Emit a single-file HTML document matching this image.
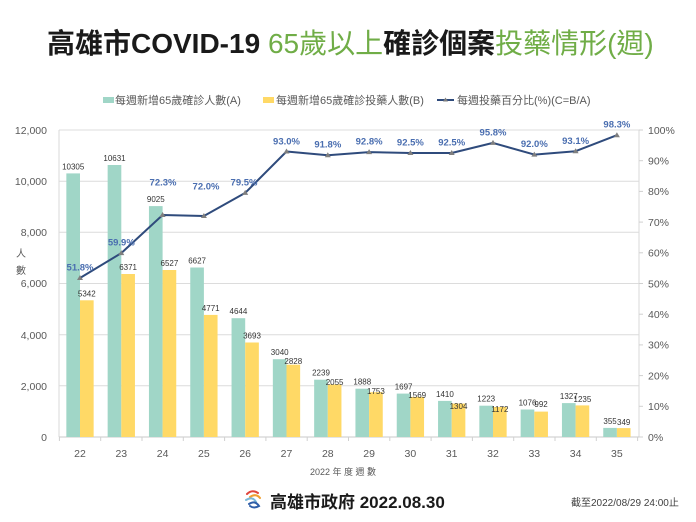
<!DOCTYPE html>
<html><head><meta charset="utf-8"><style>
html,body{margin:0;padding:0;background:#fff;}
svg{display:block;}
text{font-family:"Liberation Sans","Noto Sans CJK TC",sans-serif;}
</style></head><body>
<svg width="696" height="522" viewBox="0 0 696 522" xmlns="http://www.w3.org/2000/svg">
<rect width="696" height="522" fill="#fff"/>
<!-- Title -->
<text x="47" y="53" font-size="28" fill="#1a1a1a"><tspan font-weight="bold">高雄市COVID-19 </tspan><tspan fill="#70ad47">65歲以上</tspan><tspan font-weight="bold">確診個案</tspan><tspan fill="#70ad47">投藥情形(週)</tspan></text>

<!-- Legend -->
<rect x="103" y="97" width="11" height="6" fill="#a0d6c7"/>
<text x="115" y="104" font-size="11" fill="#595959">每週新增65歲確診人數(A)</text>
<rect x="263" y="97" width="11" height="6" fill="#ffd966"/>
<text x="276" y="104" font-size="11" fill="#595959">每週新增65歲確診投藥人數(B)</text>
<line x1="437" y1="100" x2="454" y2="100" stroke="#2f4b7c" stroke-width="2"/>
<path d="M445.5,97.5 L448,101.5 L443,101.5 Z" fill="#7f7f7f"/>
<text x="457" y="104" font-size="11" fill="#595959">每週投藥百分比(%)(C=B/A)</text>

<!-- Gridlines -->
<g stroke="#dcdcdc" stroke-width="1">
<line x1="59" y1="130" x2="639" y2="130"/>
<line x1="59" y1="181.2" x2="639" y2="181.2"/>
<line x1="59" y1="232.3" x2="639" y2="232.3"/>
<line x1="59" y1="283.5" x2="639" y2="283.5"/>
<line x1="59" y1="334.7" x2="639" y2="334.7"/>
<line x1="59" y1="385.8" x2="639" y2="385.8"/>
</g>
<!-- Axes -->
<line x1="59" y1="130" x2="59" y2="437" stroke="#d9d9d9"/>
<line x1="639" y1="130" x2="639" y2="437" stroke="#d9d9d9"/>
<line x1="59" y1="437" x2="639" y2="437" stroke="#c8c8c8"/>
<g stroke="#d0d0d0">
<line x1="59.4" y1="437" x2="59.4" y2="441"/><line x1="100.7" y1="437" x2="100.7" y2="441"/>
<line x1="142" y1="437" x2="142" y2="441"/><line x1="183.3" y1="437" x2="183.3" y2="441"/>
<line x1="224.6" y1="437" x2="224.6" y2="441"/><line x1="265.9" y1="437" x2="265.9" y2="441"/>
<line x1="307.2" y1="437" x2="307.2" y2="441"/><line x1="348.5" y1="437" x2="348.5" y2="441"/>
<line x1="389.8" y1="437" x2="389.8" y2="441"/><line x1="431.1" y1="437" x2="431.1" y2="441"/>
<line x1="472.4" y1="437" x2="472.4" y2="441"/><line x1="513.7" y1="437" x2="513.7" y2="441"/>
<line x1="555" y1="437" x2="555" y2="441"/><line x1="596.3" y1="437" x2="596.3" y2="441"/>
<line x1="637.6" y1="437" x2="637.6" y2="441"/>
<line x1="639" y1="130" x2="643" y2="130"/><line x1="639" y1="160.7" x2="643" y2="160.7"/>
<line x1="639" y1="191.4" x2="643" y2="191.4"/><line x1="639" y1="222.1" x2="643" y2="222.1"/>
<line x1="639" y1="252.8" x2="643" y2="252.8"/><line x1="639" y1="283.5" x2="643" y2="283.5"/>
<line x1="639" y1="314.2" x2="643" y2="314.2"/><line x1="639" y1="344.9" x2="643" y2="344.9"/>
<line x1="639" y1="375.6" x2="643" y2="375.6"/><line x1="639" y1="406.3" x2="643" y2="406.3"/>
<line x1="639" y1="437" x2="643" y2="437"/>
</g>

<!-- Left axis labels -->
<g font-size="10.5" fill="#595959" text-anchor="end">
<text x="47" y="134">12,000</text>
<text x="47" y="185">10,000</text>
<text x="47" y="236">8,000</text>
<text x="47" y="287">6,000</text>
<text x="47" y="339">4,000</text>
<text x="47" y="390">2,000</text>
<text x="47" y="441">0</text>
</g>
<text x="21" y="257" font-size="10" fill="#595959" text-anchor="middle">人</text>
<text x="21" y="274" font-size="10" fill="#595959" text-anchor="middle">數</text>

<!-- Right axis labels -->
<g font-size="10.5" fill="#595959">
<text x="648" y="134">100%</text>
<text x="648" y="164.5">90%</text>
<text x="648" y="195.2">80%</text>
<text x="648" y="225.9">70%</text>
<text x="648" y="256.6">60%</text>
<text x="648" y="287.3">50%</text>
<text x="648" y="318">40%</text>
<text x="648" y="348.7">30%</text>
<text x="648" y="379.4">20%</text>
<text x="648" y="410.1">10%</text>
<text x="648" y="440.8">0%</text>
</g>

<!-- Bars teal -->
<g fill="#a0d6c7">
<rect x="66.35" y="173.4" width="13.65" height="263.6"/>
<rect x="107.65" y="165.0" width="13.65" height="272.0"/>
<rect x="148.95" y="206.1" width="13.65" height="230.9"/>
<rect x="190.25" y="267.5" width="13.65" height="169.5"/>
<rect x="231.55" y="318.2" width="13.65" height="118.8"/>
<rect x="272.85" y="359.2" width="13.65" height="77.8"/>
<rect x="314.15" y="379.7" width="13.65" height="57.3"/>
<rect x="355.45" y="388.7" width="13.65" height="48.3"/>
<rect x="396.75" y="393.6" width="13.65" height="43.4"/>
<rect x="438.05" y="400.9" width="13.65" height="36.1"/>
<rect x="479.35" y="405.7" width="13.65" height="31.3"/>
<rect x="520.65" y="409.5" width="13.65" height="27.5"/>
<rect x="561.95" y="403.1" width="13.65" height="33.9"/>
<rect x="603.25" y="427.9" width="13.65" height="9.1"/>
</g>
<!-- Bars yellow -->
<g fill="#ffd966">
<rect x="80.0" y="300.3" width="13.65" height="136.7"/>
<rect x="121.3" y="274.0" width="13.65" height="163.0"/>
<rect x="162.6" y="270.0" width="13.65" height="167.0"/>
<rect x="203.9" y="314.9" width="13.65" height="122.1"/>
<rect x="245.2" y="342.5" width="13.65" height="94.5"/>
<rect x="286.5" y="364.7" width="13.65" height="72.3"/>
<rect x="327.8" y="384.4" width="13.65" height="52.6"/>
<rect x="369.1" y="392.2" width="13.65" height="44.8"/>
<rect x="410.4" y="396.9" width="13.65" height="40.1"/>
<rect x="451.7" y="403.6" width="13.65" height="33.4"/>
<rect x="493.0" y="407.0" width="13.65" height="30.0"/>
<rect x="534.3" y="411.6" width="13.65" height="25.4"/>
<rect x="575.6" y="405.4" width="13.65" height="31.6"/>
<rect x="616.9" y="428.1" width="13.65" height="8.9"/>
</g>

<!-- Bar value labels -->
<g font-size="8" fill="#333" text-anchor="middle">
<text x="73.2" y="169.4">10305</text>
<text x="114.5" y="161">10631</text>
<text x="155.8" y="202.1">9025</text>
<text x="197.1" y="263.5">6627</text>
<text x="238.4" y="314.2">4644</text>
<text x="279.7" y="355.2">3040</text>
<text x="321" y="375.7">2239</text>
<text x="362.3" y="384.7">1888</text>
<text x="403.6" y="389.6">1697</text>
<text x="444.9" y="396.9">1410</text>
<text x="486.2" y="401.7">1223</text>
<text x="527.5" y="405.5">1076</text>
<text x="568.8" y="399.1">1327</text>
<text x="610.1" y="423.9">355</text>

<text x="86.8" y="296.3">5342</text>
<text x="128.1" y="270">6371</text>
<text x="169.4" y="266">6527</text>
<text x="210.7" y="310.9">4771</text>
<text x="252" y="338.5">3693</text>
<text x="293.3" y="364">2828</text>
<text x="334.6" y="385">2055</text>
<text x="375.9" y="394">1753</text>
<text x="417.2" y="398">1569</text>
<text x="458.5" y="409">1304</text>
<text x="499.8" y="412">1172</text>
<text x="541.1" y="407">992</text>
<text x="582.4" y="402">1235</text>
<text x="623.7" y="425">349</text>
</g>

<!-- Line -->
<polyline fill="none" stroke="#2f4b7c" stroke-width="2" stroke-linejoin="round"
points="80,278 121.3,253.1 162.6,215 203.9,216 245.2,192.9 286.5,151.5 327.8,155.2 369.1,152.1 410.4,153 451.7,153 493,142.9 534.3,154.6 575.6,151.2 616.9,135.2"/>
<g fill="#7f7f7f">
<path d="M80,275 l3,5 h-6z"/>
<path d="M121.3,250.1 l3,5 h-6z"/>
<path d="M162.6,212 l3,5 h-6z"/>
<path d="M203.9,213 l3,5 h-6z"/>
<path d="M245.2,189.9 l3,5 h-6z"/>
<path d="M286.5,148.5 l3,5 h-6z"/>
<path d="M327.8,152.2 l3,5 h-6z"/>
<path d="M369.1,149.1 l3,5 h-6z"/>
<path d="M410.4,150 l3,5 h-6z"/>
<path d="M451.7,150 l3,5 h-6z"/>
<path d="M493,139.9 l3,5 h-6z"/>
<path d="M534.3,151.6 l3,5 h-6z"/>
<path d="M575.6,148.2 l3,5 h-6z"/>
<path d="M616.9,132.2 l3,5 h-6z"/>
</g>

<!-- Percent labels -->
<g font-size="9.5" font-weight="bold" fill="#4a6eb0" text-anchor="middle">
<text x="80" y="270.5">51.8%</text>
<text x="121.3" y="245.5">59.9%</text>
<text x="163" y="185.5">72.3%</text>
<text x="206" y="189.5">72.0%</text>
<text x="244" y="185.5">79.5%</text>
<text x="286.5" y="144.5">93.0%</text>
<text x="327.8" y="147.5">91.8%</text>
<text x="369.1" y="144.5">92.8%</text>
<text x="410.4" y="145.5">92.5%</text>
<text x="451.7" y="145.5">92.5%</text>
<text x="493" y="135.5">95.8%</text>
<text x="534.3" y="147">92.0%</text>
<text x="575.6" y="144">93.1%</text>
<text x="616.9" y="127.5">98.3%</text>
</g>

<!-- X labels -->
<g font-size="10.5" fill="#595959" text-anchor="middle">
<text x="80" y="457">22</text>
<text x="121.3" y="457">23</text>
<text x="162.6" y="457">24</text>
<text x="203.9" y="457">25</text>
<text x="245.2" y="457">26</text>
<text x="286.5" y="457">27</text>
<text x="327.8" y="457">28</text>
<text x="369.1" y="457">29</text>
<text x="410.4" y="457">30</text>
<text x="451.7" y="457">31</text>
<text x="493" y="457">32</text>
<text x="534.3" y="457">33</text>
<text x="575.6" y="457">34</text>
<text x="616.9" y="457">35</text>
</g>
<text x="343" y="475" font-size="9" fill="#595959" text-anchor="middle">2022 年 度 週 數</text>

<!-- Footer -->
<g fill="none" stroke-linecap="round" stroke-width="2">
<path d="M247,494 Q252,489 258,493" stroke="#e0443a"/>
<path d="M250,497 Q256,493 260,498" stroke="#f0a030"/>
<path d="M246,500 Q253,496 256,502" stroke="#7ab8d8"/>
<path d="M249,504 Q255,500 259,506 Q254,509 250,506" stroke="#2f5ea8"/>
</g>
<text x="270" y="508" font-size="17" font-weight="bold" fill="#1a1a1a">高雄市政府 2022.08.30</text>
<text x="571" y="506" font-size="10" fill="#404040">截至2022/08/29 24:00止</text>
</svg>
</body></html>
